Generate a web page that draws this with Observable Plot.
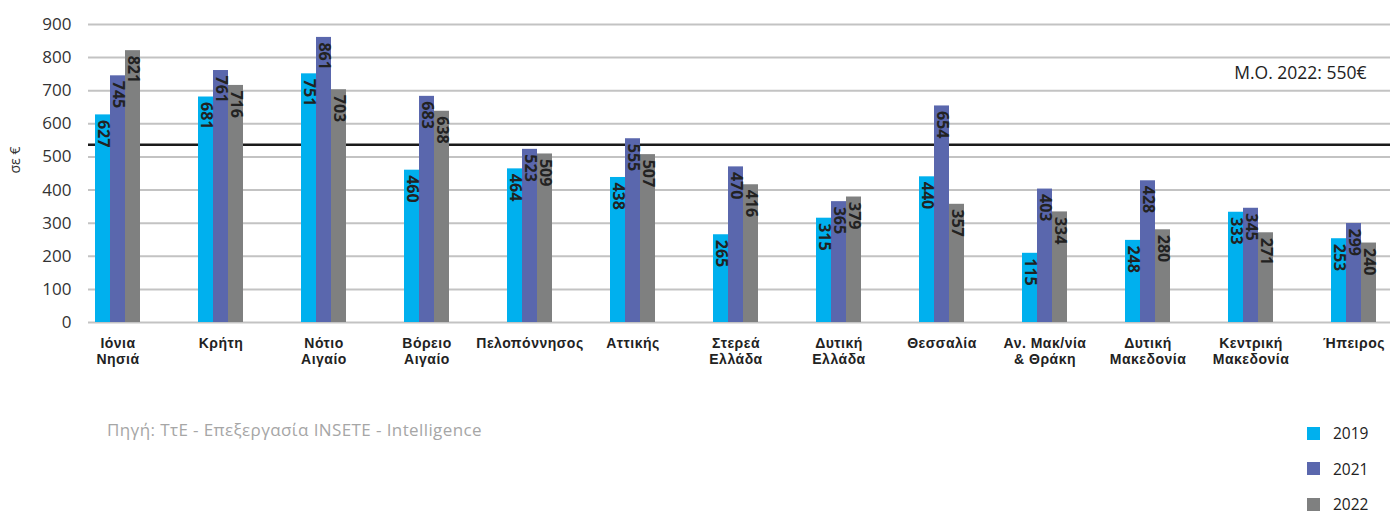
<!DOCTYPE html>
<html>
<head>
<meta charset="utf-8">
<script src="https://cdn.jsdelivr.net/npm/d3@7"></script>
<script src="https://cdn.jsdelivr.net/npm/@observablehq/plot@0.6"></script>
<style>
  body { margin: 0; background: #fff; font-family: "Open Sans", "Noto Sans", sans-serif; }
  #wrap { position: relative; width: 1392px; height: 517px; overflow: hidden; background: #fff; }
  #wrap svg { position: absolute; left: 0; top: 0; background: transparent; }
  #wrap svg g[aria-label="x-axis tick label"] text { letter-spacing: 0.5px; }
  #source { position: absolute; left: 107px; top: 418px; font-size: 17px; letter-spacing: 0.4px; color: #a6a6a6; white-space: nowrap; }
  #legend { position: absolute; left: 1307px; top: 425px; display: flex; flex-direction: column; gap: 19.5px; }
  .item { display: flex; align-items: center; height: 16px; font-size: 15.5px; line-height: 16px; color: #222; }
  .sw { width: 13px; height: 13px; margin-right: 13px; }
</style>
</head>
<body>
<div id="wrap"></div>
<script>
// ---- data ----
const regions = ["Ιόνια Νησιά", "Κρήτη", "Νότιο Αιγαίο", "Βόρειο Αιγαίο", "Πελοπόννησος", "Αττικής",
  "Στερεά Ελλάδα", "Δυτική Ελλάδα", "Θεσσαλία", "Αν. Μακ/νία & Θράκη", "Δυτική Μακεδονία",
  "Κεντρική Μακεδονία", "Ήπειρος"];
const regionTickLabels = ["Ιόνια\nΝησιά", "Κρήτη", "Νότιο\nΑιγαίο", "Βόρειο\nΑιγαίο", "Πελοπόννησος", "Αττικής",
  "Στερεά\nΕλλάδα", "Δυτική\nΕλλάδα", "Θεσσαλία", "Αν. Μακ/νία\n& Θράκη", "Δυτική\nΜακεδονία",
  "Κεντρική\nΜακεδονία", "Ήπειρος"];
const years = ["2019", "2021", "2022"];
// bar heights as drawn
const values2019 = [627, 681, 751, 460, 464, 438, 265, 315, 440, 209, 248, 333, 253];
const values2021 = [745, 761, 861, 683, 523, 555, 470, 365, 654, 403, 428, 345, 299];
const values2022 = [821, 716, 703, 638, 509, 507, 416, 379, 357, 334, 280, 271, 240];
// printed labels
const labels2019 = ["627", "681", "751", "460", "464", "438", "265", "315", "440", "115", "248", "333", "253"];
const labels2021 = ["745", "761", "861", "683", "523", "555", "470", "365", "654", "403", "428", "345", "299"];
const labels2022 = ["821", "716", "703", "638", "509", "507", "416", "379", "357", "334", "280", "271", "240"];
const yTicks = [0, 100, 200, 300, 400, 500, 600, 700, 800, 900];
const avgValue = 537;
const avgLabel = "Μ.Ο. 2022: 550€";
const yAxisLabel = "σε €";
const sourceText = "Πηγή: ΤτΕ - Επεξεργασία INSETE - Intelligence";
const colors = ["#00b0ee", "#5a67ad", "#7f8080"];

// ---- tables ----
const seriesValues = [values2019, values2021, values2022];
const seriesLabels = [labels2019, labels2021, labels2022];
const rows = [];
regions.forEach((r, i) => years.forEach((y, j) => rows.push({region: r, year: y, value: seriesValues[j][i], label: seriesLabels[j][i]})));
const tickLabelOf = new Map(regions.map((r, i) => [r, regionTickLabels[i]]));

const W = 1392, H = 380;
const frame = {width: W, height: H, marginLeft: 88, marginRight: 2, marginTop: 24, marginBottom: 58};
const bandOpts = {domain: regions, range: [89, 1382], paddingInner: 0.546, paddingOuter: 0};
const font = '"Open Sans", "Noto Sans", sans-serif';

const bg = Plot.plot({
  ...frame,
  style: {fontFamily: font, background: "transparent"},
  x: {type: "band", ...bandOpts},
  y: {domain: [0, 900]},
  marks: [
    Plot.ruleY(yTicks, {stroke: "#c3c3c3", strokeWidth: 2}),
    Plot.ruleY([avgValue], {stroke: "#1a1a1a", strokeWidth: 2.5}),
    Plot.text([{label: avgLabel, value: avgValue}], {text: "label", y: "value", frameAnchor: "right", textAnchor: "end", dx: -24, dy: -71, fontSize: 17.5, fill: "#222"}),
    Plot.text([yAxisLabel], {frameAnchor: "left", dx: -73, rotate: -90, fontSize: 14, fill: "#333"}),
    Plot.axisY(yTicks, {tickSize: 0, tickPadding: 17, fontSize: 17, fill: "#333", label: null}),
    Plot.axisX({tickSize: 0, tickPadding: 14, fontSize: 14, fontWeight: "bold", fontFamily: '"Liberation Sans", Arial, sans-serif', fill: "#222", lineHeight: 1.13, tickFormat: d => tickLabelOf.get(d), label: null})
  ]
});

const fg = Plot.plot({
  ...frame,
  style: {fontFamily: font, background: "transparent"},
  fx: {...bandOpts, axis: null, label: null},
  x: {domain: years, padding: 0, axis: null},
  y: {domain: [0, 900], axis: null},
  color: {domain: years, range: colors},
  marks: [
    Plot.barY(rows, {fx: "region", x: "year", y: "value", fill: "year"}),
    Plot.text(rows, {fx: "region", x: "year", y: "value", text: "label", rotate: 90, textAnchor: "start", dy: 5, fontSize: 16, fontWeight: "bold", fill: "#222"})
  ]
});

const wrap = document.getElementById("wrap");
wrap.appendChild(bg);
wrap.appendChild(fg);

const src = document.createElement("div");
src.id = "source";
src.textContent = sourceText;
wrap.appendChild(src);

const legend = document.createElement("div");
legend.id = "legend";
years.forEach((y, i) => {
  const it = document.createElement("div");
  it.className = "item";
  const sw = document.createElement("span");
  sw.className = "sw";
  sw.style.background = colors[i];
  const t = document.createElement("span");
  t.textContent = y;
  it.appendChild(sw);
  it.appendChild(t);
  legend.appendChild(it);
});
wrap.appendChild(legend);
</script>
</body>
</html>
